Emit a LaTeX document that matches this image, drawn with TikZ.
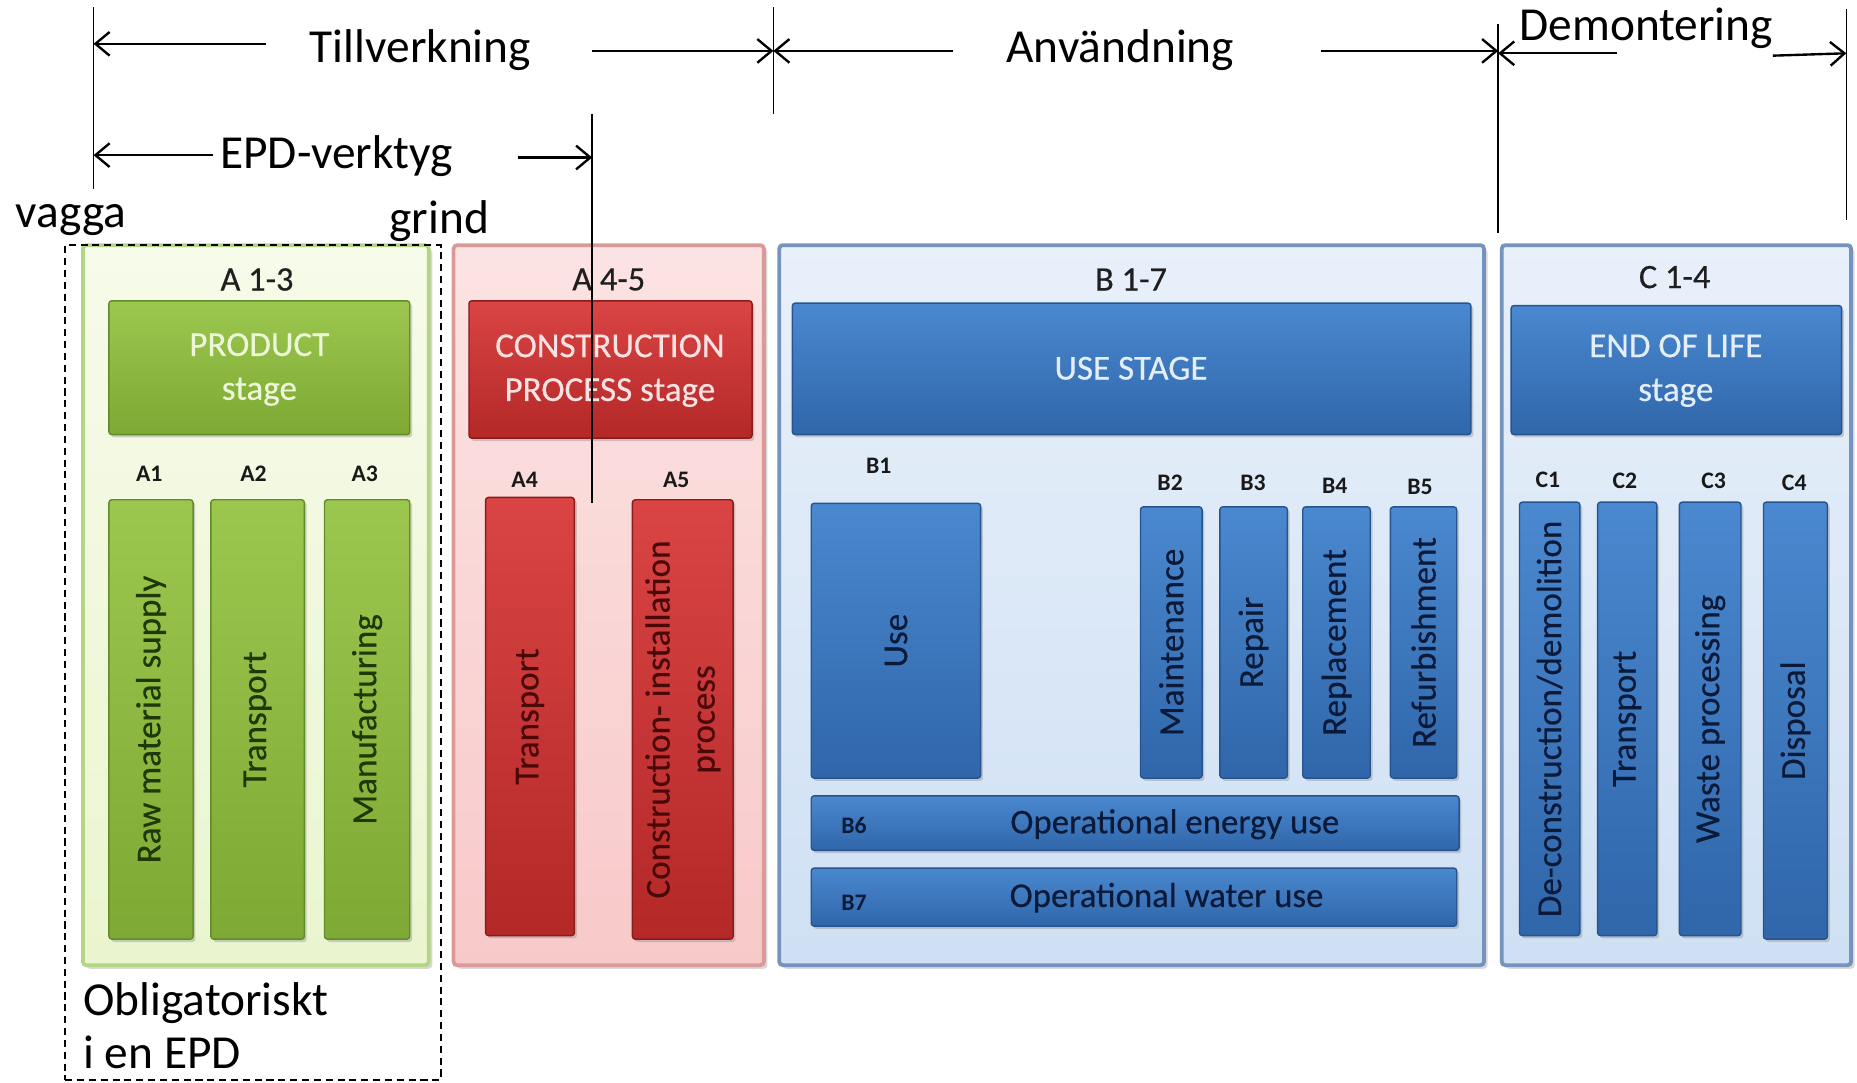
\documentclass[tikz,border=0pt]{standalone}
\usepackage{fontspec}
\setmainfont{Carlito}
\newfontfamily\semib[FakeBold=0.4]{Carlito}
\usetikzlibrary{arrows.meta,fit,shadows}

% product stage (green)
\definecolor{gPaleT}{HTML}{F7FBEA}
\definecolor{gPaleB}{HTML}{EAF5CF}
\definecolor{gEdge}{HTML}{B3D584}
\definecolor{gBarT}{HTML}{9CC74F}
\definecolor{gBarB}{HTML}{7DA934}
\definecolor{gLine}{HTML}{628C2A}
\definecolor{gHead}{HTML}{EDF6D8}
\definecolor{gText}{HTML}{1E3806}
% construction stage (red)
\definecolor{rPaleT}{HTML}{FCE3E3}
\definecolor{rPaleB}{HTML}{F8C9C9}
\definecolor{rEdge}{HTML}{DB9A9A}
\definecolor{rBarT}{HTML}{DA4444}
\definecolor{rBarB}{HTML}{B42828}
\definecolor{rLine}{HTML}{8A1C1C}
\definecolor{rHead}{HTML}{FBE2E2}
\definecolor{rText}{HTML}{4A0808}
% use and end-of-life stages (blue)
\definecolor{bPaleT}{HTML}{E8F0FA}
\definecolor{bPaleB}{HTML}{CFE0F4}
\definecolor{bEdge}{HTML}{7593BD}
\definecolor{bBarT}{HTML}{4A88CF}
\definecolor{bBarB}{HTML}{3066AA}
\definecolor{bLine}{HTML}{265490}
\definecolor{bHead}{HTML}{E4EEFB}
\definecolor{bText}{HTML}{0A1A38}

\begin{document}
\begin{tikzpicture}[x=0.5pt,y=-0.5pt,
  frame/.style={inner sep=0pt, rounded corners=1.5pt, line width=1.6pt,
    drop shadow={shadow xshift=1.5pt, shadow yshift=-1.5pt, opacity=0.3}},
  gframe/.style={frame, draw=gEdge, top color=gPaleT, bottom color=gPaleB},
  rframe/.style={frame, draw=rEdge, top color=rPaleT, bottom color=rPaleB},
  bframe/.style={frame, draw=bEdge, top color=bPaleT, bottom color=bPaleB},
  bar/.style={inner sep=0pt, rounded corners=1.2pt, line width=0.6pt,
    drop shadow={shadow xshift=1pt, shadow yshift=-1.2pt, opacity=0.35}},
  gbar/.style={bar, draw=gLine, top color=gBarT, bottom color=gBarB},
  rbar/.style={bar, draw=rLine, top color=rBarT, bottom color=rBarB},
  bbar/.style={bar, draw=bLine, top color=bBarT, bottom color=bBarB},
  hdr/.style={inner sep=0pt, font=\semib\fontsize{14.8}{18.5}\selectfont, align=center},
  vlab/.style={rotate=90, inner sep=0pt, font=\semib\fontsize{14.8}{19}\selectfont, align=center},
  hlab/.style={inner sep=0pt, font=\semib\fontsize{14.7}{17}\selectfont, text=bText},
  code/.style={inner sep=0pt, font=\fontsize{10}{12}\bfseries\selectfont, text=black!90},
  group/.style={inner sep=0pt, font=\semib\fontsize{14.5}{16}\selectfont, text=black!88},
  ann/.style={inner sep=0pt, anchor=base, font=\fontsize{20}{24}\selectfont},
  arr/.style={line width=1pt, -{Straight Barb[length=6pt,width=10pt]}},
  rule/.style={line width=0.6pt},
]
\fill[white] (0,0) rectangle (1568,914);
\useasboundingbox (0,0) rectangle (1568,914);

% ---------- A 1-3 : product stage ----------
\node[gframe, fit={(70,207)(362,815)}] (A13) {};
\node[group] (A13t) at (217,236) {A 1-3};
\node[gbar, fit={(92,254)(346,367)}] (A13h) {};
\node[hdr, text=gHead] (A13ht) at (219,312) {PRODUCT\\stage};
\node[code] (A1c) at (126,400) {A1};
\node[code] (A2c) at (214,400) {A2};
\node[code] (A3c) at (308,400) {A3};
\node[gbar, fit={(92,422)(163,793)}] (A1) {};
\node[gbar, fit={(178,422)(257,793)}] (A2) {};
\node[gbar, fit={(274,422)(346,793)}] (A3) {};
\node[vlab, text=gText] (A1t) at (A1.center) {Raw material supply};
\node[vlab, text=gText] (A2t) at (A2.center) {Transport};
\node[vlab, text=gText] (A3t) at (A3.center) {Manufacturing};

% ---------- A 4-5 : construction process stage ----------
\node[rframe, fit={(383,207)(645,815)}] (A45) {};
\node[group] (A45t) at (514,236) {A 4-5};
\node[rbar, fit={(396,254)(635,370)}] (A45h) {};
\node[hdr, text=rHead] (A45ht) at (515,313) {CONSTRUCTION\\PROCESS stage};
\node[code] (A4c) at (443,405) {A4};
\node[code] (A5c) at (571,405) {A5};
\node[rbar, fit={(410,420)(485,790)}] (A4) {};
\node[rbar, fit={(534,422)(619,793)}] (A5) {};
\node[vlab, text=rText] (A4t) at (A4.center) {Transport};
\node[vlab, text=rText] (A5t) at (A5.center) {Construction- installation\\process};

% ---------- B 1-7 : use stage ----------
\node[bframe, fit={(658,207)(1253,815)}] (B17) {};
\node[group] (B17t) at (955,236) {B 1-7};
\node[bbar, fit={(669,256)(1242,367)}] (B17h) {};
\node[hdr, text=bHead] (B17ht) at (955,311) {USE STAGE};
\node[code] (B1c) at (742,393) {B1};
\node[code] (B2c) at (988,408) {B2};
\node[code] (B3c) at (1058,408) {B3};
\node[code] (B4c) at (1127,410) {B4};
\node[code] (B5c) at (1199,411) {B5};
\node[bbar, fit={(685,425)(828,657)}] (B1) {};
\node[bbar, fit={(963,428)(1015,657)}] (B2) {};
\node[bbar, fit={(1030,428)(1087,657)}] (B3) {};
\node[bbar, fit={(1100,428)(1157,657)}] (B4) {};
\node[bbar, fit={(1174,428)(1230,657)}] (B5) {};
\node[vlab, text=bText] (B1t) at (B1.center) {Use};
\node[vlab, text=bText] (B2t) at (B2.center) {Maintenance};
\node[vlab, text=bText] (B3t) at (B3.center) {Repair};
\node[vlab, text=bText] (B4t) at (B4.center) {Replacement};
\node[vlab, text=bText] (B5t) at (B5.center) {Refurbishment};
\node[bbar, fit={(685,672)(1232,718)}] (B6) {};
\node[bbar, fit={(685,733)(1230,782)}] (B7) {};
\node[code, text=bText] (B6c) at (721,697) {B6};
\node[code, text=bText] (B7c) at (721,762) {B7};
\node[hlab] (B6t) at (992,696) {Operational energy use};
\node[hlab] (B7t) at (985,758) {Operational water use};

% ---------- C 1-4 : end of life stage ----------
\node[bframe, fit={(1268,207)(1563,815)}] (C14) {};
\node[group] (C14t) at (1414,234) {C 1-4};
\node[bbar, fit={(1276,258)(1555,367)}] (C14h) {};
\node[hdr, text=bHead] (C14ht) at (1415,313) {END OF LIFE\\stage};
\node[code] (C1c) at (1307,405) {C1};
\node[code] (C2c) at (1372,406) {C2};
\node[code] (C3c) at (1447,406) {C3};
\node[code] (C4c) at (1515,408) {C4};
\node[bbar, fit={(1283,424)(1334,790)}] (C1) {};
\node[bbar, fit={(1349,424)(1399,790)}] (C2) {};
\node[bbar, fit={(1418,424)(1470,790)}] (C3) {};
\node[bbar, fit={(1489,424)(1543,793)}] (C4) {};
\node[vlab, text=bText] (C1t) at (C1.center) {De-construction/demolition};
\node[vlab, text=bText] (C2t) at (C2.center) {Transport};
\node[vlab, text=bText] (C3t) at (C3.center) {Waste processing};
\node[vlab, text=bText] (C4t) at (C4.center) {Disposal};

% ---------- mandatory part of an EPD ----------
\node[fit={(55,207)(372,912)}, inner sep=0pt, draw=black, line width=0.8pt,
      dash pattern=on 3pt off 2pt] (mand) {};
\node[inner sep=0pt, anchor=north west, align=left,
      font=\fontsize{20}{22.5}\selectfont] (mandt) at (70,829)
      {Obligatoriskt\\i en EPD};

% ---------- life cycle phases ----------
\node[ann] (tv) at (355,53) {Tillverkning};
\node[ann] (an) at (946,53) {Användning};
\node[ann] (dm) at (1390,34) {Demontering};
\node[ann] (ep) at (284,142) {EPD-verktyg};
\node[ann] (vg) at (60,192) {vagga};
\node[ann] (gr) at (371,197) {grind};

\coordinate (v1t) at (79,6);    \coordinate (v1b) at (79,160);
\coordinate (v2t) at (653,6);   \coordinate (v2b) at (653,96);
\coordinate (v3t) at (1265,20); \coordinate (v3b) at (1265,197);
\coordinate (v4t) at (1559,8);  \coordinate (v4b) at (1559,186);
\coordinate (v5t) at (500,96);  \coordinate (v5b) at (500,425);
\draw[rule] (v1t) -- (v1b);
\draw[rule] (v2t) -- (v2b);
\draw[rule] (v3t) -- (v3b);
\draw[rule] (v4t) -- (v4b);
\draw[rule] (v5t) -- (v5b);

\coordinate (tvL) at (225,37);
\coordinate (tvR) at (500,43);
\coordinate (anL) at (805,43);
\coordinate (anR) at (1115,43);
\coordinate (dmL) at (1365,45);
\coordinate (dmR) at (1497,47);
\coordinate (dmE) at (1559,45);
\coordinate (epL) at (180,131);
\coordinate (epR) at (437,133);
\draw[arr] (tvL) -- (v1t |- tvL);
\draw[arr] (tvR) -- (v2t |- tvR);
\draw[arr] (anL) -- (v2t |- anL);
\draw[arr] (anR) -- (v3t |- anR);
\draw[arr] (dmL) -- (v3t |- dmL);
\draw[arr] (dmR) -- (dmE);
\draw[arr] (epL) -- (v1t |- epL);
\draw[arr] (epR) -- (v5t |- epR);
\end{tikzpicture}
\end{document}
